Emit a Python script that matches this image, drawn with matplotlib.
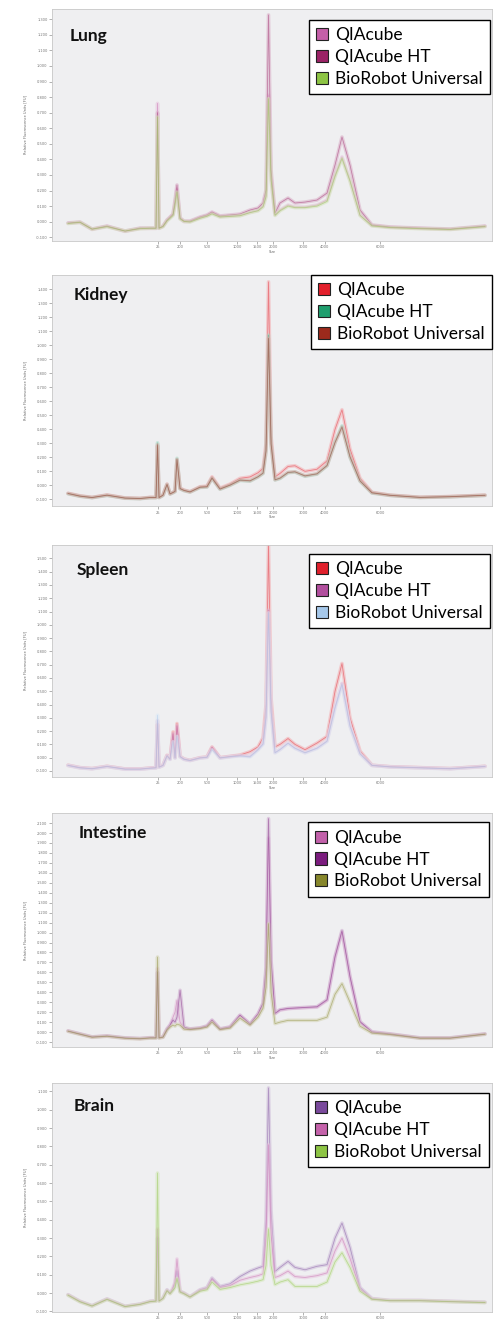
import numpy as np
import matplotlib
matplotlib.use("Agg")
import matplotlib.pyplot as plt
from matplotlib.colors import to_rgb
from matplotlib.patches import Patch

# migration time (s) of the sampled points, shared by all traces
time_s = [20.82, 22.18, 23.55, 25.25, 27.30, 29.00, 30.14, 30.82, 30.99, 31.16,
          31.61, 32.07, 32.41, 32.75, 32.98, 33.20, 33.55, 34.00, 34.68, 35.82,
          36.61, 37.18, 38.09, 39.23, 40.36, 41.50, 42.41, 42.98, 43.32, 43.60,
          43.89, 44.34, 44.91, 45.82, 46.61, 47.75, 49.11, 50.25, 51.16, 51.95,
          52.86, 54.00, 55.36, 57.41, 60.82, 64.23, 68.20]

# ladder positions on the time axis and their size labels
xtick_pos = [31.05, 33.55, 36.61, 40.02, 42.30, 44.11, 47.52, 50.02, 56.27]
xtick_lab = ["25", "200", "500", "1000", "1500", "2000", "3000", "4000", "6000"]

series_names = ["QIAcube", "QIAcube HT", "BioRobot Universal"]

# ---- Lung
lung_colors = ["#c45fa8", "#9b2366", "#8dc444"]
lung_qiacube = [-0.010, -0.005, -0.050, -0.030, -0.062, -0.044, -0.043, -0.043, 0.760, -0.043,
                -0.030, 0.008, 0.025, 0.045, 0.120, 0.210, 0.020, 0.000, 0.000, 0.025,
                0.038, 0.055, 0.032, 0.036, 0.040, 0.060, 0.072, 0.100, 0.170, 0.814,
                0.280, 0.043, 0.075, 0.107, 0.094, 0.094, 0.107, 0.139, 0.300, 0.416,
                0.268, 0.043, -0.025, -0.036, -0.043, -0.049, -0.030]
lung_ht = [-0.008, -0.002, -0.047, -0.028, -0.060, -0.041, -0.041, -0.041, 0.700, -0.041,
           -0.028, 0.011, 0.030, 0.049, 0.139, 0.236, 0.024, 0.004, 0.004, 0.030,
           0.043, 0.062, 0.037, 0.043, 0.049, 0.075, 0.088, 0.120, 0.204, 1.328,
           0.332, 0.056, 0.120, 0.152, 0.120, 0.126, 0.139, 0.184, 0.364, 0.544,
           0.364, 0.075, -0.021, -0.034, -0.041, -0.047, -0.028]
lung_biorobot = [-0.012, -0.004, -0.048, -0.032, -0.060, -0.045, -0.042, -0.042, 0.672, -0.042,
                 -0.032, 0.005, 0.022, 0.040, 0.110, 0.190, 0.018, 0.002, -0.002, 0.022,
                 0.035, 0.050, 0.030, 0.034, 0.038, 0.058, 0.070, 0.095, 0.160, 0.790,
                 0.270, 0.040, 0.070, 0.100, 0.090, 0.090, 0.100, 0.130, 0.290, 0.405,
                 0.260, 0.040, -0.027, -0.038, -0.045, -0.050, -0.032]

# ---- Kidney
kidney_colors = ["#e3202c", "#1f9e6e", "#9c2a1c"]
kidney_qiacube = [-0.057, -0.075, -0.086, -0.069, -0.090, -0.093, -0.086, -0.086, 0.280, -0.086,
                  -0.069, 0.009, -0.060, -0.050, -0.040, 0.180, -0.020, -0.034, -0.045, -0.010,
                  -0.005, 0.061, -0.020, 0.009, 0.050, 0.060, 0.090, 0.121, 0.300, 1.454,
                  0.350, 0.061, 0.085, 0.135, 0.140, 0.100, 0.115, 0.175, 0.400, 0.540,
                  0.260, 0.050, -0.050, -0.070, -0.085, -0.080, -0.070]
kidney_ht = [-0.060, -0.078, -0.088, -0.072, -0.092, -0.095, -0.088, -0.088, 0.304, -0.088,
             -0.072, 0.005, -0.062, -0.052, -0.045, 0.193, -0.025, -0.038, -0.048, -0.015,
             -0.012, 0.050, -0.028, 0.000, 0.035, 0.030, 0.060, 0.085, 0.250, 1.074,
             0.300, 0.038, 0.049, 0.090, 0.095, 0.065, 0.080, 0.140, 0.310, 0.425,
             0.200, 0.030, -0.055, -0.072, -0.087, -0.082, -0.072]
kidney_biorobot = [-0.058, -0.077, -0.087, -0.070, -0.091, -0.094, -0.087, -0.087, 0.290, -0.087,
                   -0.070, 0.007, -0.061, -0.051, -0.043, 0.185, -0.023, -0.036, -0.047, -0.013,
                   -0.010, 0.052, -0.026, 0.002, 0.038, 0.033, 0.062, 0.088, 0.245, 1.050,
                   0.295, 0.040, 0.052, 0.093, 0.097, 0.068, 0.083, 0.142, 0.305, 0.415,
                   0.205, 0.032, -0.053, -0.071, -0.086, -0.081, -0.071]

# ---- Spleen
spleen_colors = ["#e0202c", "#b24f9e", "#a6c8ea"]
spleen_qiacube = [-0.057, -0.075, -0.082, -0.065, -0.085, -0.085, -0.078, -0.075, 0.250, -0.070,
                  -0.057, 0.018, -0.010, 0.194, 0.000, 0.257, 0.010, -0.010, -0.020, 0.000,
                  0.005, 0.081, 0.000, 0.010, 0.020, 0.045, 0.081, 0.150, 0.400, 1.600,
                  0.450, 0.081, 0.100, 0.144, 0.100, 0.060, 0.110, 0.160, 0.500, 0.709,
                  0.300, 0.050, -0.057, -0.068, -0.075, -0.082, -0.065]
spleen_ht = [-0.058, -0.076, -0.083, -0.066, -0.086, -0.086, -0.079, -0.076, 0.280, -0.071,
             -0.058, 0.015, -0.012, 0.180, -0.002, 0.240, 0.008, -0.012, -0.021, -0.002,
             0.003, 0.075, -0.002, 0.008, 0.015, 0.010, 0.062, 0.105, 0.310, 1.111,
             0.355, 0.038, 0.062, 0.110, 0.072, 0.038, 0.072, 0.125, 0.380, 0.559,
             0.240, 0.030, -0.058, -0.069, -0.076, -0.083, -0.066]
spleen_biorobot = [-0.059, -0.077, -0.084, -0.067, -0.087, -0.087, -0.080, -0.077, 0.320, -0.072,
                   -0.059, 0.012, -0.014, 0.120, -0.004, 0.160, 0.006, -0.013, -0.022, -0.003,
                   0.002, 0.060, -0.003, 0.006, 0.013, 0.005, 0.058, 0.100, 0.300, 1.090,
                   0.345, 0.036, 0.060, 0.108, 0.070, 0.036, 0.070, 0.122, 0.370, 0.548,
                   0.235, 0.028, -0.059, -0.070, -0.077, -0.084, -0.067]

# ---- Intestine
intestine_colors = ["#c261aa", "#7b1c7e", "#87872c"]
intestine_qiacube = [0.011, -0.020, -0.050, -0.040, -0.060, -0.066, -0.058, -0.058, 0.640, -0.058,
                     -0.050, 0.030, 0.068, 0.150, 0.200, 0.319, 0.100, 0.035, 0.030, 0.040,
                     0.060, 0.118, 0.030, 0.050, 0.168, 0.080, 0.180, 0.286, 0.600, 1.950,
                     0.700, 0.185, 0.220, 0.235, 0.240, 0.245, 0.250, 0.319, 0.750, 1.005,
                     0.550, 0.100, 0.000, -0.020, -0.060, -0.060, -0.020]
intestine_ht = [0.012, -0.018, -0.048, -0.038, -0.058, -0.064, -0.056, -0.056, 0.600, -0.056,
                -0.048, 0.032, 0.070, 0.120, 0.100, 0.150, 0.420, 0.050, 0.032, 0.042,
                0.062, 0.120, 0.032, 0.052, 0.170, 0.082, 0.182, 0.290, 0.650, 2.145,
                0.720, 0.188, 0.225, 0.238, 0.242, 0.248, 0.255, 0.325, 0.760, 1.020,
                0.560, 0.105, 0.002, -0.018, -0.058, -0.058, -0.018]
intestine_biorobot = [0.008, -0.022, -0.052, -0.042, -0.062, -0.068, -0.060, -0.060, 0.754, -0.060,
                      -0.052, 0.020, 0.050, 0.070, 0.060, 0.080, 0.070, 0.030, 0.025, 0.035,
                      0.050, 0.100, 0.025, 0.040, 0.140, 0.070, 0.150, 0.240, 0.450, 1.090,
                      0.400, 0.085, 0.100, 0.118, 0.118, 0.118, 0.118, 0.150, 0.380, 0.487,
                      0.300, 0.060, -0.010, -0.025, -0.062, -0.062, -0.022]

# ---- Brain
brain_colors = ["#7a4a9c", "#c462aa", "#8dc444"]
brain_qiacube = [-0.009, -0.045, -0.069, -0.032, -0.072, -0.060, -0.045, -0.042, 0.300, -0.042,
                 -0.027, 0.018, 0.000, 0.020, 0.050, 0.120, 0.010, 0.000, -0.020, 0.018,
                 0.030, 0.082, 0.036, 0.050, 0.090, 0.120, 0.137, 0.146, 0.400, 1.119,
                 0.450, 0.118, 0.140, 0.173, 0.140, 0.127, 0.146, 0.155, 0.300, 0.382,
                 0.250, 0.030, -0.030, -0.040, -0.040, -0.045, -0.050]
brain_ht = [-0.010, -0.046, -0.070, -0.033, -0.073, -0.061, -0.046, -0.043, 0.350, -0.043,
            -0.028, 0.015, -0.002, 0.030, 0.060, 0.186, 0.008, -0.002, -0.021, 0.015,
            0.025, 0.075, 0.030, 0.040, 0.070, 0.085, 0.095, 0.105, 0.300, 0.809,
            0.320, 0.085, 0.095, 0.120, 0.090, 0.085, 0.095, 0.110, 0.230, 0.300,
            0.190, 0.020, -0.032, -0.041, -0.041, -0.046, -0.051]
brain_biorobot = [-0.012, -0.048, -0.071, -0.035, -0.074, -0.062, -0.047, -0.044, 0.655, -0.044,
                  -0.030, 0.012, -0.004, 0.015, 0.030, 0.080, 0.005, -0.004, -0.022, 0.010,
                  0.018, 0.060, 0.020, 0.030, 0.045, 0.055, 0.065, 0.073, 0.150, 0.350,
                  0.150, 0.046, 0.060, 0.073, 0.036, 0.036, 0.036, 0.060, 0.170, 0.220,
                  0.140, 0.010, -0.034, -0.042, -0.042, -0.047, -0.052]

panel_names = ["Lung", "Kidney", "Spleen", "Intestine", "Brain"]
panel_colors = [lung_colors, kidney_colors, spleen_colors, intestine_colors, brain_colors]
panel_series = [
    [lung_qiacube, lung_ht, lung_biorobot],
    [kidney_qiacube, kidney_ht, kidney_biorobot],
    [spleen_qiacube, spleen_ht, spleen_biorobot],
    [intestine_qiacube, intestine_ht, intestine_biorobot],
    [brain_qiacube, brain_ht, brain_biorobot],
]
# y tick range per panel: (first tick, last tick, ylim low, ylim high)
panel_yticks = [(-0.1, 1.3, -0.124, 1.366),
                (-0.1, 1.4, -0.148, 1.502),
                (-0.1, 1.5, -0.145, 1.601),
                (-0.1, 2.1, -0.150, 2.201),
                (-0.1, 1.1, -0.103, 1.146)]
# the bottom panel's axis title falls off the page in the original
show_xlabel = [True, True, True, True, False]

# layout (figure fractions) and text placement
axes_rects = [[0.1053, 0.8177, 0.8907, 0.1755],
              [0.1053, 0.6172, 0.8907, 0.1747],
              [0.1053, 0.4123, 0.8907, 0.1755],
              [0.1053, 0.2080, 0.8907, 0.1770],
              [0.1053, 0.0076, 0.8907, 0.1732]]
legend_anchor = [(0.995, 0.953), (1.0, 1.0), (0.995, 0.961), (0.993, 0.960), (0.993, 0.958)]
title_pos = [(0.041, 0.884), (0.050, 0.913), (0.055, 0.892), (0.060, 0.915), (0.048, 0.901)]


def lighten(c, amount):
    r, g, b = to_rgb(c)
    return (r + (1 - r) * amount, g + (1 - g) * amount, b + (1 - b) * amount)


def main():
    fig = plt.figure(figsize=(4.94, 13.22), dpi=100)
    fig.patch.set_facecolor("white")

    for i, name in enumerate(panel_names):
        ax = fig.add_axes(axes_rects[i])
        ax.set_facecolor("#efeff1")
        t0, t1, lo, hi = panel_yticks[i]

        for ys, c in zip(panel_series[i], panel_colors[i]):
            ax.plot(time_s, ys, color=lighten(c, 0.6), lw=2.6, alpha=0.5,
                    solid_joinstyle="round", solid_capstyle="round")
            ax.plot(time_s, ys, color=c, lw=0.6, alpha=0.45)

        ax.set_xlim(19, 69)
        ax.set_ylim(lo, hi)
        yt = np.round(np.arange(t0, t1 + 1e-6, 0.1), 3)
        ax.set_yticks(yt)
        ax.set_yticklabels([f"{v:.3f}" for v in yt])
        ax.set_xticks(xtick_pos)
        ax.set_xticklabels(xtick_lab)
        ax.tick_params(labelsize=2.6, length=2, width=0.4, colors="#777777", pad=1.2)
        ax.set_ylabel("Relative Fluorescence Units [FU]", fontsize=2.6, color="#666666", labelpad=6)
        if show_xlabel[i]:
            ax.set_xlabel("Size", fontsize=2.4, color="#666666", labelpad=0.3)
        for s in ax.spines.values():
            s.set_color("#c8c8c8")
            s.set_linewidth(0.6)

        ax.text(title_pos[i][0], title_pos[i][1], name, transform=ax.transAxes,
                ha="left", va="center", fontsize=12.5, fontweight="bold",
                family="Lato", color="#111111")

        handles = [Patch(facecolor=c, edgecolor="#222222", linewidth=0.8) for c in panel_colors[i]]
        leg = ax.legend(handles, series_names, loc="upper right",
                        bbox_to_anchor=legend_anchor[i], borderaxespad=0,
                        frameon=True, fancybox=False, framealpha=1,
                        edgecolor="black", facecolor="white",
                        prop={"family": "Lato", "size": 12.5},
                        handlelength=0.7, handleheight=0.7, handletextpad=0.4,
                        labelspacing=0.34, borderpad=0.42)
        leg.get_frame().set_linewidth(1.0)

    fig.savefig("out.png", dpi=100)
    plt.close(fig)


if __name__ == "__main__":
    main()
